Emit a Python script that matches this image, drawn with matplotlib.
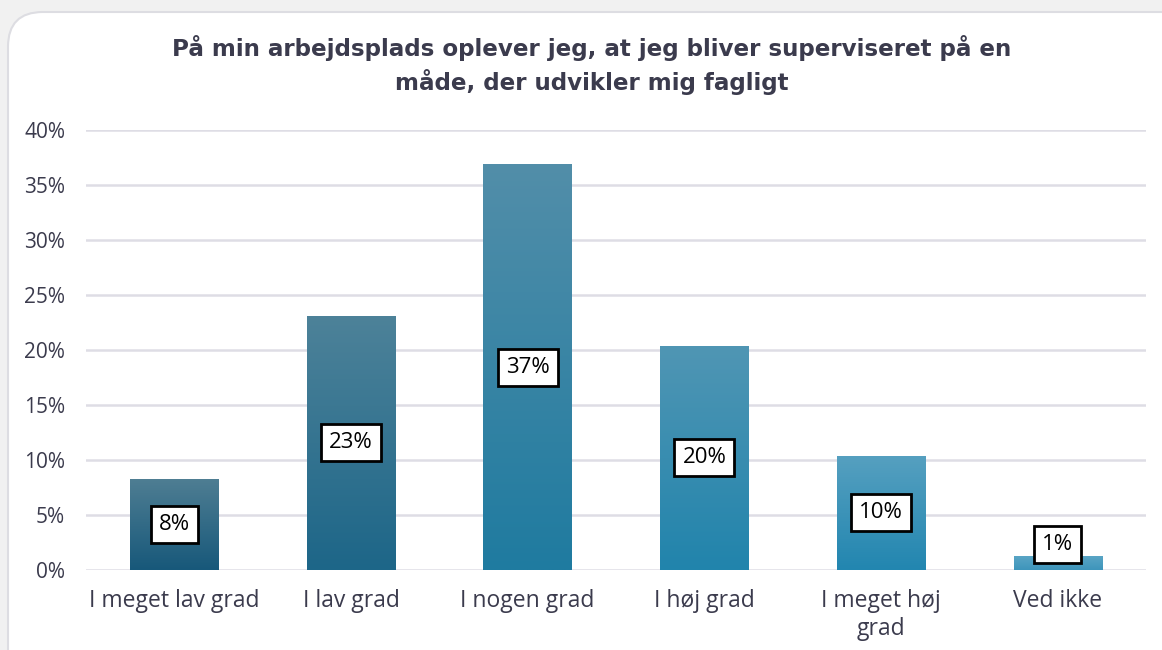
import numpy as np
import matplotlib
matplotlib.use("Agg")
import matplotlib.pyplot as plt
from matplotlib.patches import FancyBboxPatch
from matplotlib.colors import LinearSegmentedColormap

categories = ["I meget lav grad", "I lav grad", "I nogen grad", "I høj grad",
              "I meget høj\ngrad", "Ved ikke"]
values = [8.3, 23.1, 36.9, 20.4, 10.4, 1.3]
labels = ["8%", "23%", "37%", "20%", "10%", "1%"]
top_colors = ["#4f7e93", "#4d8299", "#528ea9", "#5096b4", "#56a0c0", "#5ca6c6"]
bottom_colors = ["#17587a", "#1d6688", "#1f7ba0", "#2184ac", "#2286b0", "#3d95bb"]
yticks = [0, 5, 10, 15, 20, 25, 30, 35, 40]

TXT = "#3b3b4d"
plt.rcParams["font.family"] = ["Open Sans", "DejaVu Sans"]

fig = plt.figure(figsize=(11.62, 6.5), dpi=100)
fig.patch.set_facecolor("#f1f1f1")
card = FancyBboxPatch((8 / 1162, -0.1), 1.2, 1.1 - 12 / 650,
                      boxstyle="round,pad=0,rounding_size=0.03",
                      transform=fig.transFigure, facecolor="white",
                      edgecolor="#dddde2", linewidth=1.5, zorder=-5,
                      mutation_aspect=1162 / 650)
fig.patches.append(card)

ax = fig.add_axes([86 / 1162, 1 - 570 / 650, 1060 / 1162, 440 / 650])
ax.set_zorder(2)
ax.set_facecolor("none")
x = np.arange(len(categories))
bars = ax.bar(x, values, width=0.5, color="none", zorder=2)
for b, v, ct, cb in zip(bars, values, top_colors, bottom_colors):
    cmap = LinearSegmentedColormap.from_list("g", [cb, ct])
    grad = np.linspace(0, 1, 256).reshape(-1, 1)
    im = ax.imshow(grad, cmap=cmap, origin="lower", aspect="auto",
                   extent=[b.get_x(), b.get_x() + b.get_width(), 0, v], zorder=2)
    im.set_clip_path(b)

for xi, v, lab in zip(x, values, labels):
    ax.text(xi, max(v / 2, 2.3), lab, ha="center", va="center", fontsize=16,
            color="black", zorder=4,
            bbox=dict(boxstyle="square,pad=0.36", facecolor="white",
                      edgecolor="black", linewidth=2))

ax.set_xlim(-0.5, len(categories) - 0.5)
ax.set_ylim(0, 40)
ax.set_yticks(yticks)
ax.set_yticklabels([f"{t}%" for t in yticks], fontsize=15, color=TXT)
ax.set_xticks(x)
ax.set_xticklabels(categories, fontsize=16.5, color=TXT, linespacing=1.2)
ax.tick_params(length=0, axis="y", pad=15)
ax.tick_params(length=0, axis="x", pad=14)
ax.grid(axis="y", color="#dedde5", linewidth=1.8, zorder=1)
ax.set_axisbelow(True)
for s in ax.spines.values():
    s.set_visible(False)

fig.text(592 / 1162, 1 - 65 / 650,
         "På min arbejdsplads oplever jeg, at jeg bliver superviseret på en\nmåde, der udvikler mig fagligt",
         ha="center", va="center", fontsize=16.6, fontweight="bold", color=TXT,
         linespacing=1.4, family="DejaVu Sans")

fig.savefig("out.png", dpi=100, facecolor=fig.get_facecolor())
